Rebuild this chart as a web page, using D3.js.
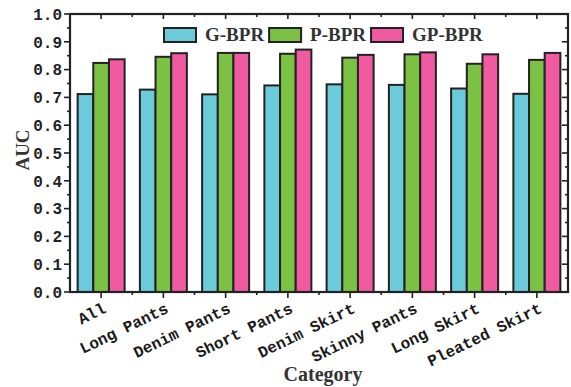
<!DOCTYPE html>
<html>
<head>
<meta charset="utf-8">
<script src="https://cdn.jsdelivr.net/npm/d3@7"></script>
<style>
  body { margin: 0; background: #fff; }
  svg { display: block; }
</style>
</head>
<body>
<svg id="chart" width="571" height="387"></svg>
<script>
// data
const categories = ["All", "Long Pants", "Denim Pants", "Short Pants", "Denim Skirt", "Skinny Pants", "Long Skirt", "Pleated Skirt"];
const seriesNames = ["G-BPR", "P-BPR", "GP-BPR"];
const gBpr  = [0.712, 0.728, 0.711, 0.743, 0.747, 0.745, 0.732, 0.713];
const pBpr  = [0.824, 0.846, 0.860, 0.857, 0.843, 0.855, 0.821, 0.835];
const gpBpr = [0.837, 0.859, 0.860, 0.872, 0.853, 0.862, 0.855, 0.860];
const yTicks = [0, 0.1, 0.2, 0.3, 0.4, 0.5, 0.6, 0.7, 0.8, 0.9, 1.0];

const colors = ["#6ccbdb", "#7bc244", "#f05aa0"];
const values = [gBpr, pBpr, gpBpr];

const svg = d3.select("#chart");
const plotL = 70, plotR = 568, plotT = 14, plotB = 292;
const axisColor = "#222";

const x = d3.scaleBand().domain(categories).range([plotL, plotR])
  .paddingInner(0.245).paddingOuter(0.1225);
const xs = d3.scaleBand().domain(seriesNames).range([0, x.bandwidth()]);
const y = d3.scaleLinear().domain([0, 1]).range([plotB, plotT]);

// bars
const groups = svg.append("g").selectAll("g")
  .data(categories)
  .join("g")
  .attr("transform", d => `translate(${x(d)},0)`);

groups.selectAll("rect")
  .data((c, i) => seriesNames.map((s, j) => ({ s, j, v: values[j][i] })))
  .join("rect")
  .attr("x", d => xs(d.s))
  .attr("y", d => y(d.v))
  .attr("width", xs.bandwidth())
  .attr("height", d => y(0) - y(d.v))
  .attr("fill", d => colors[d.j])
  .attr("stroke", axisColor)
  .attr("stroke-width", 2);

// frame
svg.append("rect")
  .attr("x", plotL).attr("y", plotT)
  .attr("width", plotR - plotL).attr("height", plotB - plotT)
  .attr("fill", "none").attr("stroke", axisColor).attr("stroke-width", 2.2);

const step = x.step();
const centers = categories.map(c => x(c) + x.bandwidth() / 2);
const bounds = d3.range(1, categories.length).map(i => plotL + i * step);
const minorY = d3.range(0.05, 1, 0.1);

const ticks = svg.append("g").attr("stroke", axisColor).attr("stroke-width", 1.6);
// bottom & top
centers.forEach(cx => {
  ticks.append("line").attr("x1", cx).attr("x2", cx).attr("y1", plotB).attr("y2", plotB + 6);
  ticks.append("line").attr("x1", cx).attr("x2", cx).attr("y1", plotT).attr("y2", plotT + 5);
});
bounds.forEach(bx => {
  ticks.append("line").attr("x1", bx).attr("x2", bx).attr("y1", plotB).attr("y2", plotB + 3);
  ticks.append("line").attr("x1", bx).attr("x2", bx).attr("y1", plotT).attr("y2", plotT + 3);
});
// left & right
yTicks.forEach(t => {
  ticks.append("line").attr("x1", plotL - 6).attr("x2", plotL).attr("y1", y(t)).attr("y2", y(t));
  ticks.append("line").attr("x1", plotR - 6).attr("x2", plotR).attr("y1", y(t)).attr("y2", y(t));
});
minorY.forEach(t => {
  ticks.append("line").attr("x1", plotL - 3).attr("x2", plotL).attr("y1", y(t)).attr("y2", y(t));
  ticks.append("line").attr("x1", plotR - 3).attr("x2", plotR).attr("y1", y(t)).attr("y2", y(t));
});

// y tick labels
svg.append("g").selectAll("text")
  .data(yTicks)
  .join("text")
  .attr("x", plotL - 8)
  .attr("y", d => y(d))
  .attr("dy", "0.36em")
  .attr("text-anchor", "end")
  .attr("font-family", "Liberation Mono, monospace")
  .attr("font-weight", "bold")
  .attr("font-size", 16)
  .attr("fill", "#222")
  .text(d => d.toFixed(1));

// x tick labels
svg.append("g").selectAll("text")
  .data(categories)
  .join("text")
  .attr("transform", d => `translate(${x(d) + x.bandwidth() / 2 + 6},312) rotate(-26)`)
  .attr("text-anchor", "end")
  .attr("font-family", "Liberation Mono, monospace")
  .attr("font-weight", "bold")
  .attr("font-size", 16)
  .attr("fill", "#1a1a1a")
  .text(d => d);

// axis titles
svg.append("text")
  .attr("x", 323).attr("y", 381)
  .attr("text-anchor", "middle")
  .attr("font-family", "Liberation Serif, serif")
  .attr("font-weight", "bold")
  .attr("font-size", 20)
  .attr("fill", "#333")
  .text("Category");

svg.append("text")
  .attr("transform", "translate(29,150) rotate(-90)")
  .attr("text-anchor", "middle")
  .attr("font-family", "Liberation Serif, serif")
  .attr("font-weight", "bold")
  .attr("font-size", 19)
  .attr("fill", "#333")
  .text("AUC");

// legend
const legend = svg.append("g");
let lx = 164;
seriesNames.forEach((s, i) => {
  legend.append("rect")
    .attr("x", lx).attr("y", 28)
    .attr("width", 32).attr("height", 14)
    .attr("fill", colors[i])
    .attr("stroke", axisColor).attr("stroke-width", 2);
  const t = legend.append("text")
    .attr("x", lx + 41).attr("y", 41)
    .attr("font-family", "Liberation Serif, serif")
    .attr("font-weight", "bold")
    .attr("font-size", 19)
    .attr("fill", "#333")
    .text(s);
  lx += 41 + t.node().getComputedTextLength() + 5;
});
</script>
</body>
</html>
